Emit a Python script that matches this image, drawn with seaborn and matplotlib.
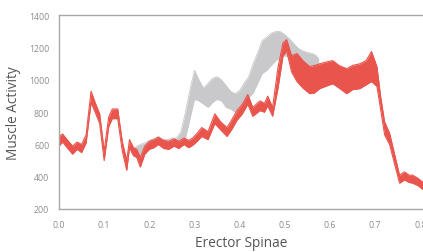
import numpy as np
import pandas as pd
import matplotlib
matplotlib.use("Agg")
import matplotlib.pyplot as plt
import seaborn as sns

# Red series (x, lower bound, upper bound)
red_x = [0.000, 0.008, 0.018, 0.030, 0.040, 0.050, 0.060, 0.071, 0.080, 0.090,
         0.100, 0.110, 0.118, 0.130, 0.140, 0.150, 0.156, 0.165, 0.172, 0.180,
         0.190, 0.200, 0.210, 0.220, 0.232, 0.243, 0.255, 0.265, 0.277, 0.287,
         0.296, 0.306, 0.316, 0.330, 0.345, 0.358, 0.372, 0.384, 0.394, 0.406,
         0.418, 0.429, 0.445, 0.455, 0.462, 0.473, 0.485, 0.496, 0.504, 0.515,
         0.527, 0.540, 0.555, 0.566, 0.577, 0.590, 0.606, 0.620, 0.637, 0.650,
         0.666, 0.680, 0.692, 0.704, 0.712, 0.721, 0.732, 0.743, 0.754, 0.765,
         0.775, 0.783, 0.795, 0.806]
red_low = [590, 615, 580, 540, 570, 550, 610, 860, 800, 730,
           500, 710, 760, 760, 560, 440, 580, 530, 520, 460,
           540, 570, 580, 600, 575, 570, 590, 575, 600, 580,
           595, 620, 650, 630, 730, 690, 650, 700, 750, 790,
           850, 775, 810, 800, 840, 775, 950, 1150, 1180, 1050,
           990, 950, 915, 920, 946, 960, 977, 950, 915, 940,
           946, 970, 990, 960, 820, 660, 600, 480, 360, 380,
           365, 360, 345, 320]
red_high = [650, 665, 630, 590, 615, 600, 660, 930, 860, 790,
            560, 770, 820, 820, 620, 500, 630, 580, 570, 520,
            590, 620, 630, 645, 625, 620, 635, 620, 640, 625,
            640, 670, 705, 680, 790, 740, 705, 760, 810, 850,
            910, 830, 870, 855, 900, 830, 1080, 1230, 1250, 1150,
            1164, 1120, 1083, 1090, 1100, 1110, 1120, 1090, 1070, 1090,
            1100, 1120, 1176, 1083, 900, 740, 670, 540, 410, 430,
            410, 410, 390, 365]

# Grey series (x, lower bound, upper bound)
grey_x = [0.165, 0.172, 0.180, 0.190, 0.200, 0.210, 0.220, 0.230, 0.240, 0.250,
          0.260, 0.270, 0.280, 0.290, 0.300, 0.310, 0.320, 0.330, 0.340, 0.350,
          0.360, 0.370, 0.380, 0.390, 0.400, 0.410, 0.420, 0.430, 0.440, 0.450,
          0.460, 0.470, 0.480, 0.490, 0.500, 0.510, 0.520, 0.530, 0.540, 0.550,
          0.560, 0.570, 0.575]
grey_low = [540, 535, 520, 560, 590, 600, 610, 590, 590, 600,
            590, 610, 640, 760, 880, 870, 850, 830, 860, 880,
            870, 830, 820, 800, 830, 860, 890, 920, 980, 1040,
            1060, 1090, 1120, 1140, 1150, 1140, 1120, 1100, 1090, 1090,
            1090, 1090, 1100]
grey_high = [570, 590, 600, 610, 625, 635, 650, 630, 630, 640,
             640, 680, 800, 940, 1060, 1000, 950, 980, 1010, 1020,
             1000, 965, 930, 915, 935, 980, 1020, 1100, 1170, 1245,
             1265, 1290, 1300, 1300, 1280, 1255, 1225, 1195, 1180, 1170,
             1165, 1150, 1130]

x_ticks = [0.0, 0.1, 0.2, 0.3, 0.4, 0.5, 0.6, 0.7, 0.8]
y_ticks = [200, 400, 600, 800, 1000, 1200, 1400]

RED = "#E9544C"
GREY = "#C9C9CB"

sns.set_style("white")
plt.rcParams["font.family"] = ["Open Sans", "DejaVu Sans"]

fig = plt.figure(figsize=(4.23, 2.53), dpi=100)
ax = fig.add_axes([0.1395, 0.170, 0.8605, 0.765])

grey = pd.DataFrame({"x": grey_x, "low": grey_low, "high": grey_high})
red = pd.DataFrame({"x": red_x, "low": red_low, "high": red_high})

ax.fill_between(grey["x"], grey["low"], grey["high"], color=GREY, linewidth=0, zorder=1)
sns.lineplot(data=grey, x="x", y="low", ax=ax, color=GREY, linewidth=0.6, zorder=1)
sns.lineplot(data=grey, x="x", y="high", ax=ax, color=GREY, linewidth=0.6, zorder=1)

ax.fill_between(red["x"], red["low"], red["high"], color=RED, linewidth=0, zorder=2)
sns.lineplot(data=red, x="x", y="low", ax=ax, color=RED, linewidth=0.8, zorder=2)
sns.lineplot(data=red, x="x", y="high", ax=ax, color=RED, linewidth=0.8, zorder=2)

ax.set_xlim(0, 0.806)
ax.set_ylim(200, 1400)
ax.set_xticks(x_ticks)
ax.set_xticklabels([f"{v:.1f}" for v in x_ticks])
ax.set_yticks(y_ticks)
ax.set_yticklabels([str(v) for v in y_ticks])
ax.tick_params(axis="x", length=0, labelsize=6.3, labelcolor="#8C8C8C", pad=8)
ax.tick_params(axis="y", length=0, labelsize=6.3, labelcolor="#8C8C8C", pad=7)

ax.set_xlabel("Erector Spinae", fontsize=9.8, color="#555555", labelpad=4)
ax.set_ylabel("Muscle Activity", fontsize=9.8, color="#555555", labelpad=6)

for side in ["left", "bottom", "top"]:
    ax.spines[side].set_color("#A8A8A8")
    ax.spines[side].set_linewidth(1.0)
ax.spines["right"].set_visible(False)

fig.savefig("out.png", dpi=100)
